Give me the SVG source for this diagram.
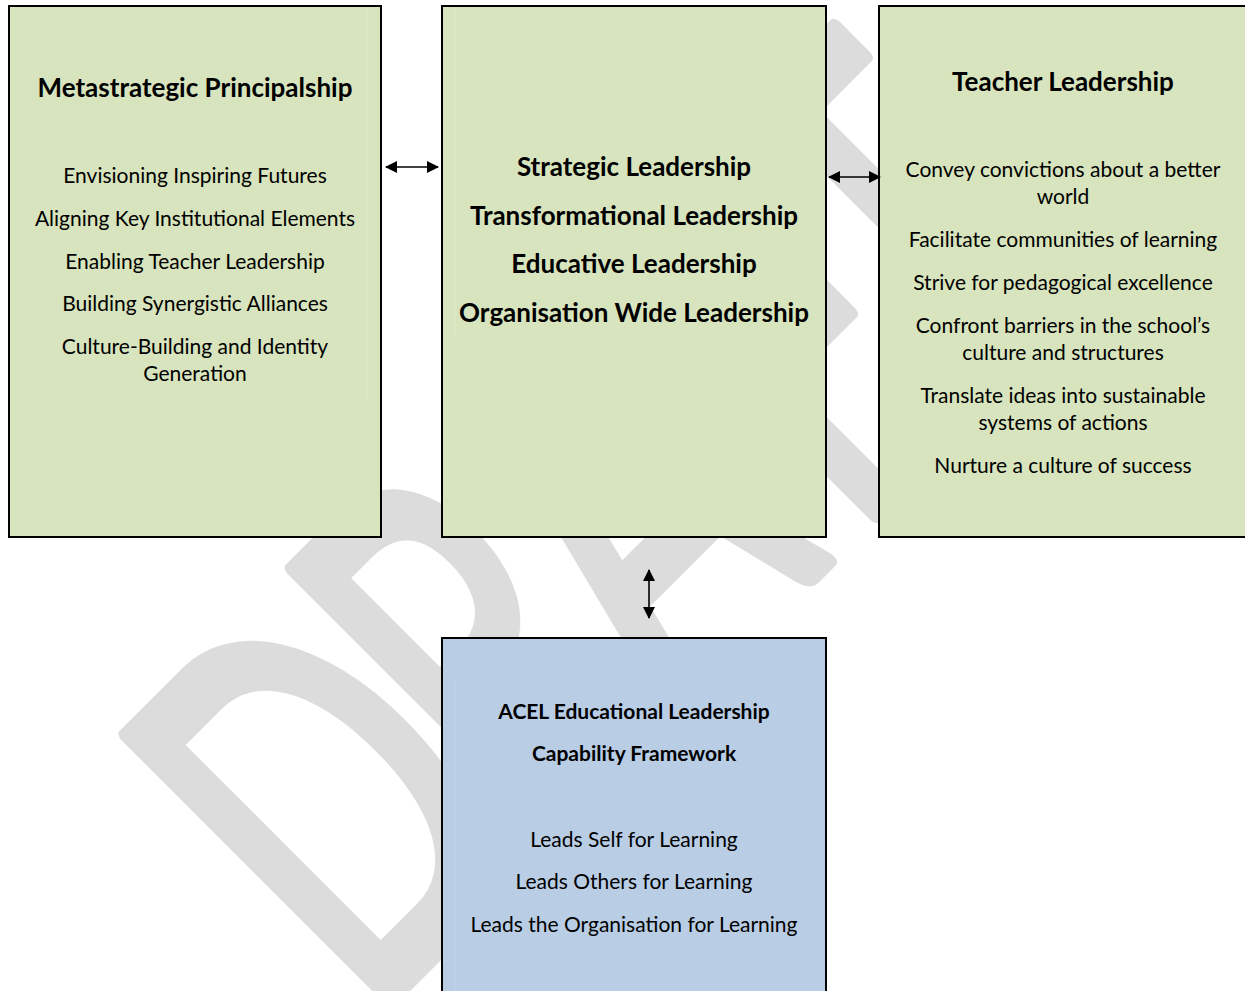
<svg xmlns="http://www.w3.org/2000/svg" width="1245" height="991" viewBox="0 0 1245 991">
  <style>
    .box-green { fill: #d7e4bd; stroke: #000; stroke-width: 2; }
    .box-blue { fill: #b9cde5; stroke: #000; stroke-width: 2; }
    .frame-g { stroke: #e0eaca; stroke-width: 1; }
    .frame-b { stroke: #c3d5ea; stroke-width: 1; }
    text { font-family: Lato, "Open Sans", "Liberation Sans", sans-serif; fill: #000; text-anchor: middle; }
    .t { font-size: 21px; }
    .h { font-size: 26px; font-weight: bold; }
    .hs { font-size: 21px; font-weight: bold; }
    .wm { font-size: 330px; fill: #dcdcdc; stroke: #dcdcdc; stroke-width: 10; stroke-linejoin: round; stroke-linecap: round; }
    .conn { stroke: #000; stroke-width: 1.6; fill: none; }
  </style>
  <defs>
    <marker id="head" viewBox="0 0 12 12" refX="11" refY="6" markerWidth="13" markerHeight="12" markerUnits="userSpaceOnUse" orient="auto-start-reverse">
      <path d="M0,0 L12,6 L0,12 Z" fill="#000"/>
    </marker>
  </defs>

  <rect width="1245" height="991" fill="#fff"/>

  <!-- background watermark, laid along a 45 degree baseline, letters stretched tall -->
  <g id="watermark" transform="translate(391.5,998.5) rotate(-45) scale(1,1.58)">
    <text class="wm" x="92" y="0">D</text>
    <text class="wm" x="305" y="0">R</text>
    <text class="wm" x="510" y="0">A</text>
    <text class="wm" x="745" y="0">F</text>
    <text class="wm" x="910" y="0">T</text>
  </g>

  <g id="metastrategic">
    <rect class="box-green" x="9" y="6" width="372" height="531"/>
    <line class="frame-g" x1="367" y1="8" x2="367" y2="402"/>
    <text class="h" x="195" y="97">Metastrategic Principalship</text>
    <text class="t" x="195" y="183">Envisioning Inspiring Futures</text>
    <text class="t" x="195" y="226">Aligning Key Institutional Elements</text>
    <text class="t" x="195" y="269">Enabling Teacher Leadership</text>
    <text class="t" x="195" y="311">Building Synergistic Alliances</text>
    <text class="t" x="195" y="354">Culture-Building and Identity</text>
    <text class="t" x="195" y="381">Generation</text>
  </g>

  <g id="leadership">
    <rect class="box-green" x="442" y="6" width="384" height="531"/>
    <line class="frame-g" x1="455" y1="8" x2="455" y2="333"/>
    <text class="h" x="634" y="176">Strategic Leadership</text>
    <text class="h" x="634" y="225">Transformational Leadership</text>
    <text class="h" x="634" y="273">Educative Leadership</text>
    <text class="h" x="634" y="322">Organisation Wide Leadership</text>
  </g>

  <g id="teacher">
    <rect class="box-green" x="879" y="6" width="370" height="531"/>
    <text class="h" x="1063" y="91">Teacher Leadership</text>
    <text class="t" x="1063" y="177">Convey convictions about a better</text>
    <text class="t" x="1063" y="204">world</text>
    <text class="t" x="1063" y="247">Facilitate communities of learning</text>
    <text class="t" x="1063" y="290">Strive for pedagogical excellence</text>
    <text class="t" x="1063" y="333">Confront barriers in the school’s</text>
    <text class="t" x="1063" y="360">culture and structures</text>
    <text class="t" x="1063" y="403">Translate ideas into sustainable</text>
    <text class="t" x="1063" y="430">systems of actions</text>
    <text class="t" x="1063" y="473">Nurture a culture of success</text>
  </g>

  <g id="acel">
    <rect class="box-blue" x="442" y="638" width="384" height="360"/>
    <line class="frame-b" x1="455" y1="680" x2="455" y2="991"/>
    <text class="hs" x="634" y="719">ACEL Educational Leadership</text>
    <text class="hs" x="634" y="761">Capability Framework</text>
    <text class="t" x="634" y="847">Leads Self for Learning</text>
    <text class="t" x="634" y="889">Leads Others for Learning</text>
    <text class="t" x="634" y="932">Leads the Organisation for Learning</text>
  </g>

  <g id="connectors">
    <line class="conn" x1="386" y1="167" x2="438" y2="167" marker-start="url(#head)" marker-end="url(#head)"/>
    <line class="conn" x1="829" y1="177" x2="880" y2="177" marker-start="url(#head)" marker-end="url(#head)"/>
    <line class="conn" x1="649" y1="570" x2="649" y2="618" marker-start="url(#head)" marker-end="url(#head)"/>
  </g>
</svg>
